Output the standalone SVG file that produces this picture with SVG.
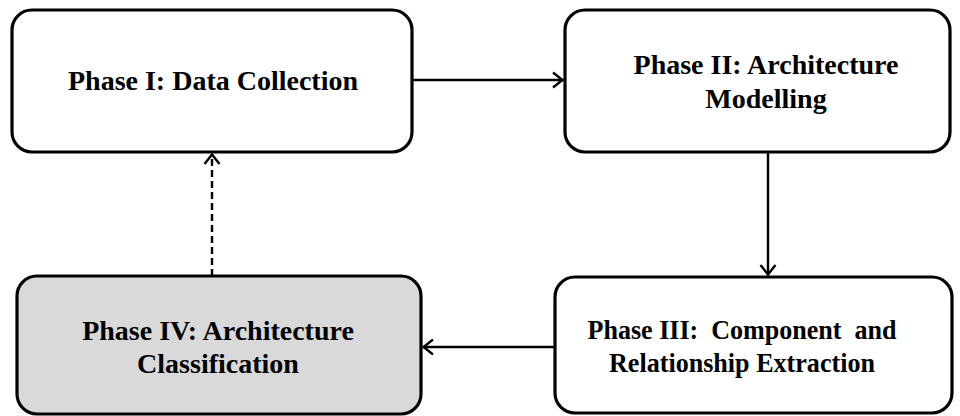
<svg xmlns="http://www.w3.org/2000/svg" width="960" height="416" viewBox="0 0 960 416">
<style>
.box{fill:#fff;stroke:#000;stroke-width:3.2}
.gray{fill:#d9d9d9}
.t{font-family:"Liberation Serif","Times New Roman",serif;font-weight:bold;font-size:28px;fill:#000;text-anchor:middle}
.c{stroke:#000;stroke-width:2.4;fill:none}
</style>
<defs>
<marker id="ah" viewBox="0 0 14 20" refX="12.5" refY="10" markerWidth="14" markerHeight="20" markerUnits="userSpaceOnUse" orient="auto">
<path d="M2.5,2.5 L12,10 L2.5,17.5" fill="none" stroke="#000" stroke-width="2.4"/>
</marker>
</defs>
<g id="connectors">
<line class="c" x1="413" y1="80" x2="563" y2="80" marker-end="url(#ah)"/>
<line class="c" x1="768" y1="152" x2="768" y2="275" marker-end="url(#ah)"/>
<line class="c" x1="555" y1="347" x2="423" y2="347" marker-end="url(#ah)"/>
<line class="c" x1="212" y1="276" x2="212" y2="154" stroke-dasharray="7,4" marker-end="url(#ah)"/>
</g>
<g id="phase1">
<rect class="box" x="12" y="10" width="400" height="142" rx="20"/>
<text class="t" x="213" y="90">Phase I: Data Collection</text>
</g>
<g id="phase2">
<rect class="box" x="565" y="10" width="385" height="142" rx="20"/>
<text class="t" x="766" y="74">Phase II: Architecture</text>
<text class="t" x="766" y="108">Modelling</text>
</g>
<g id="phase3">
<rect class="box" x="555" y="277" width="397" height="136" rx="20"/>
<text class="t" x="742" y="339" xml:space="preserve" textLength="309" lengthAdjust="spacingAndGlyphs">Phase III:  Component  and</text>
<text class="t" x="742" y="372" textLength="266" lengthAdjust="spacingAndGlyphs">Relationship Extraction</text>
</g>
<g id="phase4">
<rect class="box gray" x="17" y="276" width="404" height="138" rx="20"/>
<text class="t" x="218" y="340">Phase IV: Architecture</text>
<text class="t" x="218" y="373">Classification</text>
</g>
</svg>
